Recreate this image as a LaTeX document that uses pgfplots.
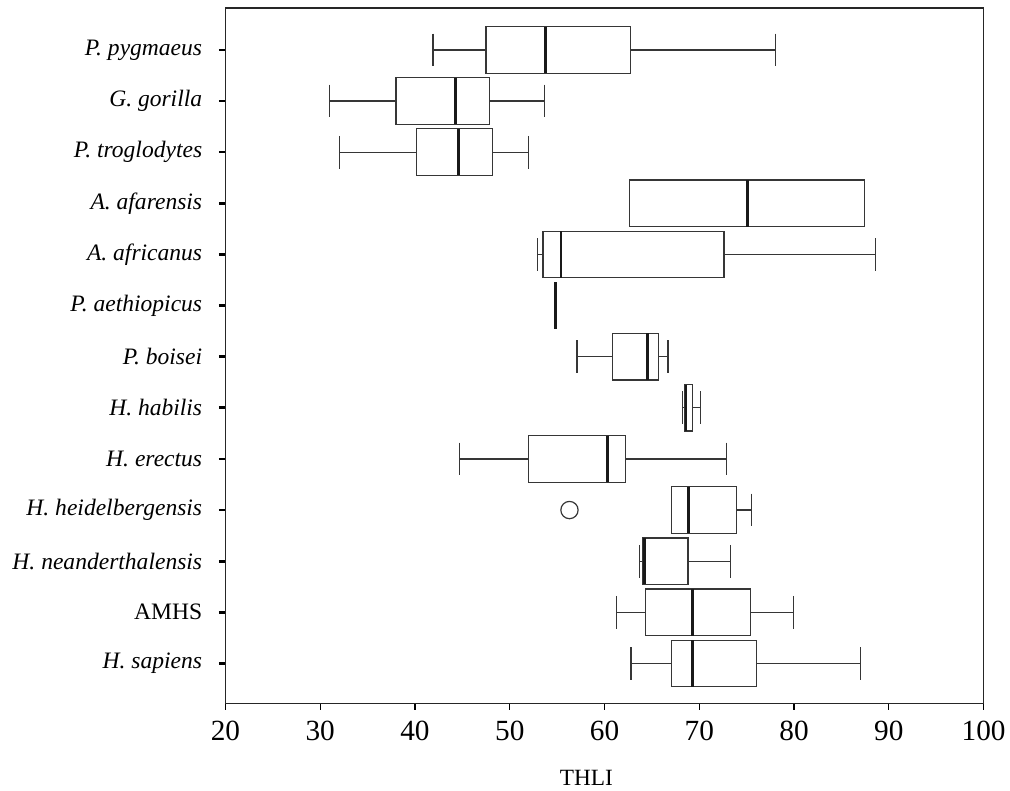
\documentclass[border=0pt]{standalone}
\usepackage{fontspec}
\setmainfont{Liberation Serif}
\usepackage{pgfplots}
\pgfplotsset{compat=1.18}
\usepgfplotslibrary{statistics}

\definecolor{boxline}{HTML}{363636}

% one box: lower whisker, lower quartile, median, upper quartile, upper whisker, row
\newcommand{\thlibox}[6]{%
  \addplot[boxline, line width=0.9pt,
    boxplot prepared={
      lower whisker=#1, lower quartile=#2, median=#3,
      upper quartile=#4, upper whisker=#5, draw position=#6,
      box extend=0.91, whisker extend=0.64},
    boxplot/every median/.style={line width=2.1pt, black!90}]
    coordinates {};}

\begin{document}
\begin{tikzpicture}
\begin{axis}[
    scale only axis,
    width=570pt, height=522.75pt,
    xmin=20, xmax=100,
    ymin=0.18, ymax=13.78,
    y dir=reverse,
    xtick={20,30,40,50,60,70,80,90,100},
    ytick={1,2,3,4,5,6,7,8,9,10,11,12,13},
    yticklabels={\textit{P. pygmaeus}, \textit{G. gorilla}, \textit{P. troglodytes},
      \textit{A. afarensis}, \textit{A. africanus}, \textit{P. aethiopicus},
      \textit{P. boisei}, \textit{H. habilis}, \textit{H. erectus},
      \textit{H. heidelbergensis}, \textit{H. neanderthalensis}, AMHS,
      \textit{H. sapiens}},
    tick pos=left,
    tick align=outside,
    major tick length=5pt,
    x tick style={line width=0.9pt, black},
    y tick style={line width=2pt, black},
    axis line style={line width=0.9pt, black!85},
    /pgf/number format/assume math mode=true,
    x tick label style={font=\fontsize{22}{24}\selectfont, anchor=base, yshift=-23pt},
    y tick label style={font=\fontsize{17.7}{20}\selectfont, xshift=-9pt},
    xlabel={THLI},
    xlabel style={font=\fontsize{17.5}{20}\selectfont,
      at={(axis description cs:0.476,0)}, anchor=base, yshift=-61.5pt},
    clip=false,
    ]

    \thlibox{41.9}{47.5}{53.8}{62.7}{78.0}{1}
    \thlibox{31.0}{38.0}{44.3}{47.9}{53.7}{2}
    \thlibox{32.0}{40.2}{44.6}{48.2}{52.0}{3}
    \thlibox{62.6}{62.6}{75.1}{87.4}{87.4}{4}
    \thlibox{52.9}{53.5}{55.4}{72.6}{88.6}{5}
    \thlibox{54.8}{54.8}{54.8}{54.8}{54.8}{6}
    \thlibox{57.1}{60.8}{64.5}{65.7}{66.7}{7}
    \thlibox{68.2}{68.5}{68.6}{69.3}{70.1}{8}
    \thlibox{44.7}{52.0}{60.3}{62.2}{72.9}{9}
    \thlibox{67.1}{67.1}{68.9}{73.9}{75.5}{10}
    \thlibox{63.7}{64.0}{64.2}{68.8}{73.3}{11}
    \thlibox{61.3}{64.3}{69.3}{75.4}{79.9}{12}
    \thlibox{62.8}{67.1}{69.3}{76.0}{87.0}{13}

    % outlier of H. heidelbergensis
    \addplot[only marks, mark=o, mark size=6.5pt, boxline, line width=0.9pt]
      coordinates {(56.3,10)};
\end{axis}
% page margins round the axis
\path (current axis.south west) ++(-169.5pt,-65.25pt);
\path (current axis.north east) ++(18pt,6pt);
\end{tikzpicture}
\end{document}
